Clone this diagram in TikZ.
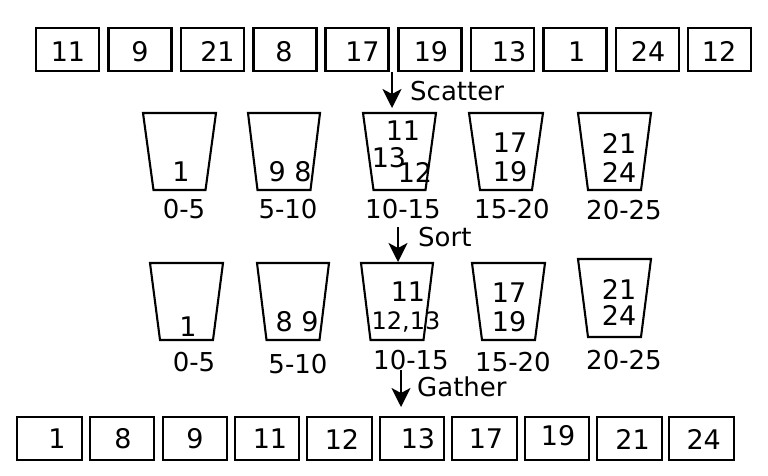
\documentclass[tikz,border=0pt]{standalone}
\usepackage{fontspec}
\setmainfont{DejaVu Sans}
\usetikzlibrary{arrows.meta}
\begin{document}
\begin{tikzpicture}[x=1pt,y=-1pt,
  cell/.style={draw,line width=2.1pt,minimum width=63pt,minimum height=43pt,inner sep=0pt},
  bcell/.style={draw,line width=2.1pt,minimum width=64.5pt,minimum height=43pt,inner sep=0pt},
  num/.style={inner sep=0pt,font=\fontsize{27}{30}\selectfont},
  small/.style={inner sep=0pt,font=\fontsize{24}{27}\selectfont},
  rng/.style={inner sep=0pt,font=\fontsize{26}{29}\selectfont},
  op/.style={inner sep=0pt,anchor=west,font=\fontsize{26}{29}\selectfont},
  bucketline/.style={line width=2.1pt,line join=miter},
  flow/.style={line width=2pt,-{Stealth[length=19pt,width=19pt,inset=5pt]}}]
\useasboundingbox (0,0) rectangle (768,476);
% top row
\foreach \i/\x/\dx/\v in {1/67.5/0.5/11,2/140/0/9,3/212.5/5/21,4/285/-1/8,5/357/5.5/17,
  6/430/1/19,7/502.5/6.5/13,8/575/1.7/1,9/647.5/0.5/24,10/719.5/-0.5/12}{
  \node[cell] (t\i) at (\x,49.5) {};
  \node[num] (tn\i) at (\x+\dx,51.5) {\v};
}
% buckets
\newcommand\mybkt[6]{% name, cx, top y, half top, half bottom, height
  \draw[bucketline] (#2-#4,#3) -- (#2+#4,#3) -- (#2+#5,#3+#6) -- (#2-#5,#3+#6) -- cycle;
  \coordinate (#1) at (#2,#3);}
\mybkt{a1}{179.5}{113}{36.5}{26}{77}
\mybkt{a2}{284}{113}{36}{26.5}{77}
\mybkt{a3}{399.5}{113}{36.5}{26}{77}
\mybkt{a4}{506}{113}{37}{26}{77}
\mybkt{a5}{614.5}{113}{36.5}{26.5}{77}
\mybkt{b1}{186.5}{263}{36.5}{26.5}{77}
\mybkt{b2}{293}{263}{36}{26.5}{77}
\mybkt{b3}{397}{263}{36}{26.5}{77}
\mybkt{b4}{508.5}{263}{36.5}{26.5}{77}
\mybkt{b5}{614.5}{259}{36.5}{26.5}{78}
% bucket contents row 1
\node[num] (a1n) at (181,172) {1};
\node[num] (a2n) at (290,172) {9 8};
\node[num] (a3n1) at (403,131) {11};
\node[num] (a3n2) at (389,158) {13};
\node[num] (a3n3) at (415,172) {12};
\node[num] (a4n1) at (510,143) {17};
\node[num] (a4n2) at (510,172) {19};
\node[num] (a5n1) at (619,143) {21};
\node[num] (a5n2) at (619,172) {24};
\node[rng] (a1l) at (184,209) {0-5};
\node[rng] (a2l) at (288,209) {5-10};
\node[rng] (a3l) at (403,209) {10-15};
\node[rng] (a4l) at (512,209) {15-20};
\node[rng] (a5l) at (624,210) {20-25};
% bucket contents row 2
\node[num] (b1n) at (188,327) {1};
\node[num] (b2n) at (297,322) {8 9};
\node[num] (b3n1) at (408,292) {11};
\node[small] (b3n2) at (406,322) {12,13};
\node[num] (b4n1) at (509,293) {17};
\node[num] (b4n2) at (509,322) {19};
\node[num] (b5n1) at (619,289) {21};
\node[num] (b5n2) at (619,315) {24};
\node[rng] (b1l) at (194,362) {0-5};
\node[rng] (b2l) at (298,364) {5-10};
\node[rng] (b3l) at (411,360) {10-15};
\node[rng] (b4l) at (513,362) {15-20};
\node[rng] (b5l) at (624,360) {20-25};
% bottom row
\foreach \i/\x/\tx/\ty/\v in {1/49.5/57/439/1,2/122/123/439/8,3/195/195/439/9,4/267/270/439/11,
  5/339.5/342/439/12,6/412/418/439/13,7/484.5/486/439/17,8/557/558/436/19,
  9/629.5/632.5/439/21,10/701.5/703.7/439/24}{
  \node[bcell] (g\i) at (\x,438.5) {};
  \node[num] (gn\i) at (\tx,\ty) {\v};
}
% arrows
\coordinate (s0) at (392,72);
\coordinate (s1) at (392,108);
\draw[flow] (s0) -- (s1);
\node[op] (sl) at (410,91) {Scatter};
\coordinate (r0) at (398,227);
\coordinate (r1) at (398,262);
\draw[flow] (r0) -- (r1);
\node[op] (rl) at (418,237) {Sort};
\coordinate (q0) at (401,370);
\coordinate (q1) at (401,407);
\draw[flow] (q0) -- (q1);
\node[op] (ql) at (417,387) {Gather};
\end{tikzpicture}
\end{document}
